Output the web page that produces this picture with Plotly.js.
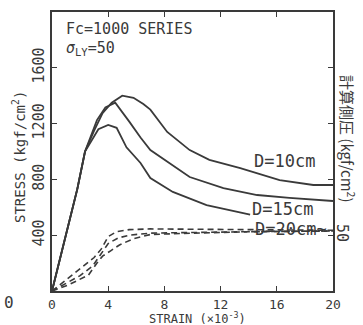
<!DOCTYPE html>
<html><head><meta charset="utf-8">
<script src="https://cdn.plot.ly/plotly-3.0.1.min.js"></script>
<style>html,body{margin:0;padding:0;background:#fff}#c{width:363px;height:325px}</style>
</head><body><div id="c"></div>
<script>
// Solid curves: measured stress
var strain10 = [0,1.8,2.35,3.0,3.6,4.25,5.0,5.8,6.5,7.0,8.2,9.8,11.2,13.4,16.2,18.6,20];
var stress10 = [0,730,1000,1150,1275,1350,1400,1385,1340,1300,1140,1010,940,880,795,760,760];
var strain15 = [0,1.8,2.35,3.2,3.8,4.5,5.5,6.3,7.0,8.0,9.8,12.2,14.6,16.9,19,20];
var stress15 = [0,730,1000,1225,1315,1350,1214,1100,1010,940,817,738,688,667,650,645];
var strain20 = [0,1.8,2.35,3.3,4.0,4.6,5.3,6.3,7.0,8.6,11,14.1];
var stress20 = [0,730,1000,1160,1190,1170,1030,918,810,710,616,548];
// Dashed curves: calculated lateral pressure
var strainD1 = [0,1,2,3,3.5,4,4.6,5.5,7,10,14,20];
var stressD1 = [0,80,160,240,300,390,425,440,445,445,440,435];
var strainD2 = [0,1,2,2.9,3.4,4,4.7,5.5,7,10,14,20];
var stressD2 = [0,55,110,180,250,340,380,400,415,420,425,430];
var strainD3 = [0,0.6,1.2,1.9,2.6,3.2,3.6,4.2,4.8,5.8,7,10,14,20];
var stressD3 = [0,20,45,80,115,200,250,290,330,375,405,415,425,430];
var xTicks = [0,4,8,12,16,20];
var yTicks = [400,800,1200,1600];
var y2Ticks = [50];
var curveLabels = ["D=10cm","D=15cm","D=20cm~"];

var col = '#3a3a3a';
var F = 'DejaVu Sans Mono, monospace';
function solid(x,y){return {x:x,y:y,mode:'lines',line:{color:col,width:1.8},hoverinfo:'skip'};}
function dash(x,y){return {x:x,y:y,mode:'lines',line:{color:col,width:1.6,dash:'6px,4px'},hoverinfo:'skip'};}
var data = [solid(strain10,stress10),solid(strain15,stress15),solid(strain20,stress20),
  dash(strainD1,stressD1),dash(strainD2,stressD2),dash(strainD3,stressD3),
  {x:[0],y:[0],yaxis:'y2',mode:'markers',marker:{opacity:0},hoverinfo:'skip'}];

function pa(px,py,text,size,angle,fam){
  return {x:(px-52)/281,y:(291-py)/279,xref:'paper',yref:'paper',xanchor:'center',yanchor:'middle',
    showarrow:false,textangle:angle||0,text:text,borderpad:0,font:{size:size,family:fam||F,color:col}};
}
var layout = {
  width:363,height:325,showlegend:false,
  paper_bgcolor:'#fff',plot_bgcolor:'#fff',
  margin:{l:52,r:30,t:12,b:34},
  font:{family:F,color:col},
  xaxis:{range:[0,20],tickvals:xTicks,ticks:'inside',ticklen:5,tickcolor:col,
    showline:true,linecolor:col,linewidth:2,mirror:'ticks',showgrid:false,zeroline:false,
    tickfont:{size:13,family:F,color:col}},
  yaxis:{range:[0,2000],tickvals:yTicks,ticks:'inside',ticklen:5,tickcolor:col,tickangle:-90,
    showline:true,linecolor:col,linewidth:2,mirror:'ticks',showgrid:false,zeroline:false,
    tickfont:{size:15,family:F,color:col}},
  yaxis2:{overlaying:'y',side:'right',range:[0,250],tickvals:y2Ticks,ticktext:['50'],ticks:'',
    tickangle:90,showline:false,showgrid:false,zeroline:false,tickfont:{size:15,family:F,color:col}},
  annotations:[
    {x:0.93,y:1878,xref:'x',yref:'y',xanchor:'left',yanchor:'middle',showarrow:false,borderpad:0,text:'Fc=1000 SERIES',font:{size:15,family:F,color:col}},
    {x:0.93,y:1735,xref:'x',yref:'y',xanchor:'left',yanchor:'middle',showarrow:false,borderpad:0,text:'<i>σ</i><sub>LY</sub>=50',font:{size:15,family:F,color:col}},
    {x:14.2,y:932,xref:'x',yref:'y',xanchor:'left',yanchor:'middle',showarrow:false,text:curveLabels[0],font:{size:17,family:F,color:col}},
    {x:14.1,y:588,xref:'x',yref:'y',xanchor:'left',yanchor:'middle',showarrow:false,text:curveLabels[1],font:{size:17,family:F,color:col}},
    {x:14.3,y:444,xref:'x',yref:'y',xanchor:'left',yanchor:'middle',showarrow:false,text:curveLabels[2],font:{size:17,family:F,color:col}},
    pa(197,318,'STRAIN (×10<sup>-3</sup>)',12),
    pa(19,157,'STRESS (kgf/cm<sup>2</sup>)',14,-90),
    pa(348,138,'計算側圧 (kgf/cm<sup>2</sup>)',15,90,'Noto Sans CJK JP, '+F),
    pa(9,302,'0',16)
  ]
};
Plotly.newPlot('c',data,layout,{staticPlot:true,displayModeBar:false});
</script></body></html>
